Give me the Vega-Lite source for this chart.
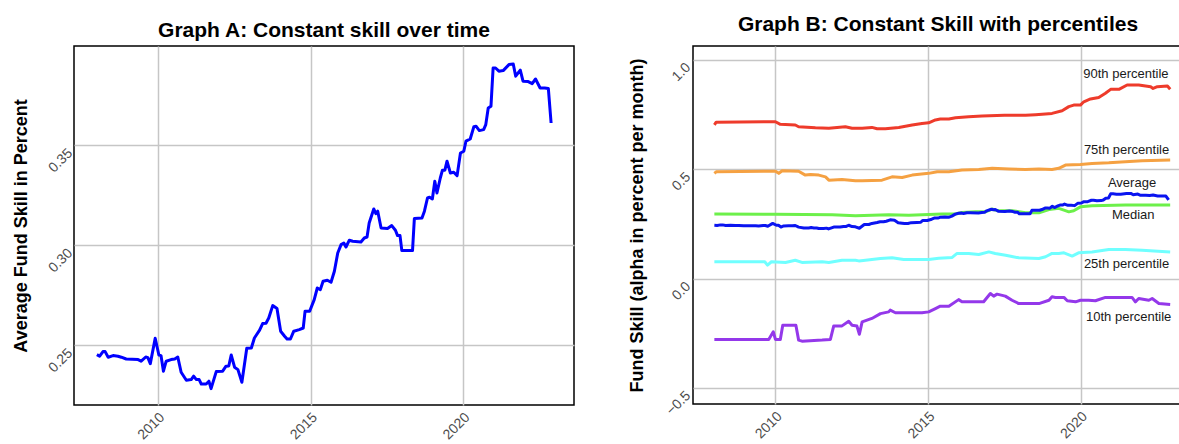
{
  "$schema": "https://vega.github.io/schema/vega-lite/v6.json",
  "background": "white",
  "padding": {"left": 12, "top": 13, "right": -2, "bottom": 0},
  "spacing": 52,
  "config": {
    "font": "Liberation Sans",
    "view": {"stroke": null},
    "axis": {
      "labelFont": "Liberation Sans",
      "labelFontSize": 14,
      "labelColor": "#4d4d4d",
      "titleFont": "Liberation Sans",
      "titleFontSize": 18,
      "titleFontWeight": "bold",
      "titleColor": "#000000",
      "gridColor": "#c6c6c6",
      "gridWidth": 1.5,
      "ticks": false,
      "domain": false
    },
    "title": {"font": "Liberation Sans", "fontSize": 21, "fontWeight": "bold", "color": "#000000", "anchor": "middle"}
  },
  "datasets": {
    "average": [
      {"year": 2008.00, "value": 0.2450}, {"year": 2008.09, "value": 0.2442}, {"year": 2008.20, "value": 0.2465},
      {"year": 2008.27, "value": 0.2465}, {"year": 2008.37, "value": 0.2437}, {"year": 2008.53, "value": 0.2445},
      {"year": 2008.69, "value": 0.2442}, {"year": 2008.80, "value": 0.2437}, {"year": 2008.96, "value": 0.2428},
      {"year": 2009.35, "value": 0.2425}, {"year": 2009.45, "value": 0.2417}, {"year": 2009.60, "value": 0.2438},
      {"year": 2009.67, "value": 0.2435}, {"year": 2009.75, "value": 0.2405}, {"year": 2009.91, "value": 0.2532},
      {"year": 2010.03, "value": 0.2448}, {"year": 2010.10, "value": 0.2445}, {"year": 2010.18, "value": 0.2367},
      {"year": 2010.27, "value": 0.2417}, {"year": 2010.43, "value": 0.2425}, {"year": 2010.55, "value": 0.2428},
      {"year": 2010.65, "value": 0.2438}, {"year": 2010.76, "value": 0.2362}, {"year": 2010.93, "value": 0.2322},
      {"year": 2011.09, "value": 0.2325}, {"year": 2011.17, "value": 0.2342}, {"year": 2011.26, "value": 0.2325},
      {"year": 2011.35, "value": 0.2325}, {"year": 2011.42, "value": 0.2303}, {"year": 2011.58, "value": 0.2303},
      {"year": 2011.67, "value": 0.2317}, {"year": 2011.74, "value": 0.2280}, {"year": 2011.91, "value": 0.2365},
      {"year": 2012.12, "value": 0.2367}, {"year": 2012.23, "value": 0.2392}, {"year": 2012.32, "value": 0.2393},
      {"year": 2012.40, "value": 0.2448}, {"year": 2012.51, "value": 0.2387}, {"year": 2012.62, "value": 0.2375},
      {"year": 2012.75, "value": 0.2312}, {"year": 2012.91, "value": 0.2482}, {"year": 2013.06, "value": 0.2483},
      {"year": 2013.16, "value": 0.2533}, {"year": 2013.33, "value": 0.2572}, {"year": 2013.43, "value": 0.2605},
      {"year": 2013.54, "value": 0.2607}, {"year": 2013.63, "value": 0.2633}, {"year": 2013.76, "value": 0.2695},
      {"year": 2013.90, "value": 0.2680}, {"year": 2014.02, "value": 0.2567}, {"year": 2014.15, "value": 0.2542},
      {"year": 2014.23, "value": 0.2528}, {"year": 2014.34, "value": 0.2528}, {"year": 2014.45, "value": 0.2567},
      {"year": 2014.63, "value": 0.2575}, {"year": 2014.76, "value": 0.2583}, {"year": 2014.82, "value": 0.2667},
      {"year": 2014.97, "value": 0.2667}, {"year": 2015.12, "value": 0.2725}, {"year": 2015.22, "value": 0.2783},
      {"year": 2015.32, "value": 0.2775}, {"year": 2015.41, "value": 0.2817}, {"year": 2015.55, "value": 0.2822},
      {"year": 2015.67, "value": 0.2812}, {"year": 2015.78, "value": 0.2867}, {"year": 2015.89, "value": 0.2958},
      {"year": 2016.00, "value": 0.3000}, {"year": 2016.09, "value": 0.3008}, {"year": 2016.16, "value": 0.2988},
      {"year": 2016.27, "value": 0.3022}, {"year": 2016.38, "value": 0.3017}, {"year": 2016.65, "value": 0.3013},
      {"year": 2016.76, "value": 0.3033}, {"year": 2016.85, "value": 0.3038}, {"year": 2016.92, "value": 0.3108},
      {"year": 2017.07, "value": 0.3178}, {"year": 2017.14, "value": 0.3155}, {"year": 2017.20, "value": 0.3167},
      {"year": 2017.31, "value": 0.3083}, {"year": 2017.52, "value": 0.3080}, {"year": 2017.66, "value": 0.3095},
      {"year": 2017.78, "value": 0.3072}, {"year": 2017.85, "value": 0.3045}, {"year": 2017.93, "value": 0.3045},
      {"year": 2017.99, "value": 0.2970}, {"year": 2018.34, "value": 0.2970}, {"year": 2018.40, "value": 0.3130},
      {"year": 2018.65, "value": 0.3133}, {"year": 2018.73, "value": 0.3167}, {"year": 2018.83, "value": 0.3233},
      {"year": 2018.90, "value": 0.3237}, {"year": 2018.99, "value": 0.3228}, {"year": 2019.07, "value": 0.3317},
      {"year": 2019.14, "value": 0.3258}, {"year": 2019.25, "value": 0.3333}, {"year": 2019.32, "value": 0.3372},
      {"year": 2019.40, "value": 0.3372}, {"year": 2019.47, "value": 0.3417}, {"year": 2019.58, "value": 0.3358},
      {"year": 2019.69, "value": 0.3362}, {"year": 2019.80, "value": 0.3345}, {"year": 2019.91, "value": 0.3458},
      {"year": 2020.02, "value": 0.3467}, {"year": 2020.09, "value": 0.3517}, {"year": 2020.23, "value": 0.3528},
      {"year": 2020.35, "value": 0.3590}, {"year": 2020.42, "value": 0.3592}, {"year": 2020.53, "value": 0.3570},
      {"year": 2020.67, "value": 0.3575}, {"year": 2020.74, "value": 0.3600}, {"year": 2020.82, "value": 0.3683},
      {"year": 2020.91, "value": 0.3692}, {"year": 2020.98, "value": 0.3883}, {"year": 2021.06, "value": 0.3883},
      {"year": 2021.17, "value": 0.3867}, {"year": 2021.31, "value": 0.3870}, {"year": 2021.50, "value": 0.3900},
      {"year": 2021.64, "value": 0.3903}, {"year": 2021.72, "value": 0.3842}, {"year": 2021.87, "value": 0.3872},
      {"year": 2021.96, "value": 0.3817}, {"year": 2022.13, "value": 0.3815}, {"year": 2022.26, "value": 0.3805},
      {"year": 2022.37, "value": 0.3828}, {"year": 2022.52, "value": 0.3783}, {"year": 2022.67, "value": 0.3783},
      {"year": 2022.79, "value": 0.3780}, {"year": 2022.88, "value": 0.3608}
    ],
    "percentiles": [
      {"series": "90th", "year": 2008.00, "value": 0.704}, {"series": "90th", "year": 2008.06, "value": 0.716},
      {"series": "90th", "year": 2010.00, "value": 0.718}, {"series": "90th", "year": 2010.16, "value": 0.706},
      {"series": "90th", "year": 2010.65, "value": 0.703}, {"series": "90th", "year": 2010.76, "value": 0.695},
      {"series": "90th", "year": 2011.31, "value": 0.690}, {"series": "90th", "year": 2011.75, "value": 0.688},
      {"series": "90th", "year": 2012.29, "value": 0.695}, {"series": "90th", "year": 2012.51, "value": 0.688},
      {"series": "90th", "year": 2012.84, "value": 0.688}, {"series": "90th", "year": 2013.16, "value": 0.692},
      {"series": "90th", "year": 2013.33, "value": 0.686}, {"series": "90th", "year": 2013.60, "value": 0.686},
      {"series": "90th", "year": 2014.04, "value": 0.692}, {"series": "90th", "year": 2014.48, "value": 0.703},
      {"series": "90th", "year": 2014.80, "value": 0.710}, {"series": "90th", "year": 2015.02, "value": 0.713},
      {"series": "90th", "year": 2015.24, "value": 0.726}, {"series": "90th", "year": 2015.40, "value": 0.730},
      {"series": "90th", "year": 2015.68, "value": 0.730}, {"series": "90th", "year": 2015.90, "value": 0.736},
      {"series": "90th", "year": 2016.33, "value": 0.741}, {"series": "90th", "year": 2016.77, "value": 0.744},
      {"series": "90th", "year": 2017.50, "value": 0.747}, {"series": "90th", "year": 2018.19, "value": 0.747},
      {"series": "90th", "year": 2018.52, "value": 0.750}, {"series": "90th", "year": 2019.06, "value": 0.756},
      {"series": "90th", "year": 2019.39, "value": 0.768}, {"series": "90th", "year": 2019.61, "value": 0.787},
      {"series": "90th", "year": 2019.77, "value": 0.794}, {"series": "90th", "year": 2019.99, "value": 0.794},
      {"series": "90th", "year": 2020.10, "value": 0.809}, {"series": "90th", "year": 2020.32, "value": 0.822},
      {"series": "90th", "year": 2020.59, "value": 0.829}, {"series": "90th", "year": 2020.81, "value": 0.848},
      {"series": "90th", "year": 2020.98, "value": 0.866}, {"series": "90th", "year": 2021.25, "value": 0.866},
      {"series": "90th", "year": 2021.52, "value": 0.886}, {"series": "90th", "year": 2021.90, "value": 0.886},
      {"series": "90th", "year": 2022.29, "value": 0.878}, {"series": "90th", "year": 2022.37, "value": 0.870},
      {"series": "90th", "year": 2022.51, "value": 0.878}, {"series": "90th", "year": 2022.84, "value": 0.881},
      {"series": "90th", "year": 2022.93, "value": 0.866},

      {"series": "75th", "year": 2008.00, "value": 0.482}, {"series": "75th", "year": 2008.06, "value": 0.489},
      {"series": "75th", "year": 2010.00, "value": 0.492}, {"series": "75th", "year": 2010.11, "value": 0.482},
      {"series": "75th", "year": 2010.22, "value": 0.494}, {"series": "75th", "year": 2010.76, "value": 0.492},
      {"series": "75th", "year": 2010.98, "value": 0.474}, {"series": "75th", "year": 2011.15, "value": 0.477},
      {"series": "75th", "year": 2011.42, "value": 0.474}, {"series": "75th", "year": 2011.64, "value": 0.466},
      {"series": "75th", "year": 2011.75, "value": 0.451}, {"series": "75th", "year": 2012.18, "value": 0.454},
      {"series": "75th", "year": 2012.62, "value": 0.448}, {"series": "75th", "year": 2012.84, "value": 0.448},
      {"series": "75th", "year": 2013.49, "value": 0.451}, {"series": "75th", "year": 2013.82, "value": 0.466},
      {"series": "75th", "year": 2014.15, "value": 0.463}, {"series": "75th", "year": 2014.48, "value": 0.474},
      {"series": "75th", "year": 2015.02, "value": 0.482}, {"series": "75th", "year": 2015.30, "value": 0.489},
      {"series": "75th", "year": 2015.68, "value": 0.489}, {"series": "75th", "year": 2016.11, "value": 0.497},
      {"series": "75th", "year": 2016.66, "value": 0.500}, {"series": "75th", "year": 2017.10, "value": 0.505},
      {"series": "75th", "year": 2017.65, "value": 0.502}, {"series": "75th", "year": 2018.19, "value": 0.500},
      {"series": "75th", "year": 2018.63, "value": 0.502}, {"series": "75th", "year": 2019.06, "value": 0.500},
      {"series": "75th", "year": 2019.28, "value": 0.505}, {"series": "75th", "year": 2019.50, "value": 0.520},
      {"series": "75th", "year": 2019.99, "value": 0.523}, {"series": "75th", "year": 2020.37, "value": 0.527},
      {"series": "75th", "year": 2020.92, "value": 0.530}, {"series": "75th", "year": 2021.46, "value": 0.535},
      {"series": "75th", "year": 2022.01, "value": 0.540}, {"series": "75th", "year": 2022.93, "value": 0.543},

      {"series": "Median", "year": 2008.00, "value": 0.296}, {"series": "Median", "year": 2010.00, "value": 0.295},
      {"series": "Median", "year": 2011.86, "value": 0.293}, {"series": "Median", "year": 2012.62, "value": 0.288},
      {"series": "Median", "year": 2013.71, "value": 0.293}, {"series": "Median", "year": 2014.37, "value": 0.291},
      {"series": "Median", "year": 2015.02, "value": 0.294}, {"series": "Median", "year": 2015.46, "value": 0.296},
      {"series": "Median", "year": 2015.90, "value": 0.296}, {"series": "Median", "year": 2016.11, "value": 0.303},
      {"series": "Median", "year": 2016.55, "value": 0.306}, {"series": "Median", "year": 2016.88, "value": 0.306},
      {"series": "Median", "year": 2017.10, "value": 0.319}, {"series": "Median", "year": 2017.20, "value": 0.314},
      {"series": "Median", "year": 2017.32, "value": 0.311}, {"series": "Median", "year": 2017.76, "value": 0.311},
      {"series": "Median", "year": 2018.19, "value": 0.302}, {"series": "Median", "year": 2018.63, "value": 0.302},
      {"series": "Median", "year": 2018.96, "value": 0.317}, {"series": "Median", "year": 2019.28, "value": 0.322},
      {"series": "Median", "year": 2019.45, "value": 0.314}, {"series": "Median", "year": 2019.61, "value": 0.306},
      {"series": "Median", "year": 2019.77, "value": 0.311}, {"series": "Median", "year": 2019.99, "value": 0.329},
      {"series": "Median", "year": 2020.37, "value": 0.334}, {"series": "Median", "year": 2021.46, "value": 0.337},
      {"series": "Median", "year": 2022.93, "value": 0.337},

      {"series": "25th", "year": 2008.00, "value": 0.078}, {"series": "25th", "year": 2009.65, "value": 0.078},
      {"series": "25th", "year": 2009.74, "value": 0.0625}, {"series": "25th", "year": 2009.87, "value": 0.078},
      {"series": "25th", "year": 2010.33, "value": 0.075}, {"series": "25th", "year": 2010.65, "value": 0.085},
      {"series": "25th", "year": 2010.87, "value": 0.075}, {"series": "25th", "year": 2011.53, "value": 0.078},
      {"series": "25th", "year": 2011.75, "value": 0.075}, {"series": "25th", "year": 2012.18, "value": 0.085},
      {"series": "25th", "year": 2012.62, "value": 0.085}, {"series": "25th", "year": 2012.73, "value": 0.082},
      {"series": "25th", "year": 2012.95, "value": 0.085}, {"series": "25th", "year": 2013.44, "value": 0.093},
      {"series": "25th", "year": 2013.82, "value": 0.096}, {"series": "25th", "year": 2014.20, "value": 0.088},
      {"series": "25th", "year": 2015.02, "value": 0.088}, {"series": "25th", "year": 2015.35, "value": 0.094},
      {"series": "25th", "year": 2015.79, "value": 0.098}, {"series": "25th", "year": 2015.95, "value": 0.116},
      {"series": "25th", "year": 2016.33, "value": 0.116}, {"series": "25th", "year": 2016.66, "value": 0.111},
      {"series": "25th", "year": 2016.99, "value": 0.123}, {"series": "25th", "year": 2017.20, "value": 0.116},
      {"series": "25th", "year": 2017.54, "value": 0.108}, {"series": "25th", "year": 2017.97, "value": 0.096},
      {"series": "25th", "year": 2018.63, "value": 0.093}, {"series": "25th", "year": 2018.85, "value": 0.101},
      {"series": "25th", "year": 2019.06, "value": 0.116}, {"series": "25th", "year": 2019.28, "value": 0.116},
      {"series": "25th", "year": 2019.45, "value": 0.119}, {"series": "25th", "year": 2019.72, "value": 0.104},
      {"series": "25th", "year": 2019.93, "value": 0.119}, {"series": "25th", "year": 2020.37, "value": 0.123},
      {"series": "25th", "year": 2020.92, "value": 0.134}, {"series": "25th", "year": 2021.46, "value": 0.134},
      {"series": "25th", "year": 2022.01, "value": 0.131}, {"series": "25th", "year": 2022.93, "value": 0.123},

      {"series": "10th", "year": 2008.00, "value": -0.277}, {"series": "10th", "year": 2009.78, "value": -0.277},
      {"series": "10th", "year": 2009.93, "value": -0.242}, {"series": "10th", "year": 2010.00, "value": -0.277},
      {"series": "10th", "year": 2010.16, "value": -0.277}, {"series": "10th", "year": 2010.24, "value": -0.212},
      {"series": "10th", "year": 2010.67, "value": -0.212}, {"series": "10th", "year": 2010.76, "value": -0.280},
      {"series": "10th", "year": 2010.87, "value": -0.285}, {"series": "10th", "year": 2011.53, "value": -0.280},
      {"series": "10th", "year": 2011.80, "value": -0.277}, {"series": "10th", "year": 2011.91, "value": -0.215},
      {"series": "10th", "year": 2012.18, "value": -0.215}, {"series": "10th", "year": 2012.40, "value": -0.194},
      {"series": "10th", "year": 2012.51, "value": -0.212}, {"series": "10th", "year": 2012.67, "value": -0.216},
      {"series": "10th", "year": 2012.75, "value": -0.253}, {"series": "10th", "year": 2012.84, "value": -0.197},
      {"series": "10th", "year": 2013.00, "value": -0.189}, {"series": "10th", "year": 2013.16, "value": -0.181},
      {"series": "10th", "year": 2013.44, "value": -0.159}, {"series": "10th", "year": 2013.71, "value": -0.151},
      {"series": "10th", "year": 2013.76, "value": -0.143}, {"series": "10th", "year": 2013.93, "value": -0.155},
      {"series": "10th", "year": 2014.80, "value": -0.155}, {"series": "10th", "year": 2015.02, "value": -0.151},
      {"series": "10th", "year": 2015.24, "value": -0.136}, {"series": "10th", "year": 2015.40, "value": -0.125},
      {"series": "10th", "year": 2015.68, "value": -0.125}, {"series": "10th", "year": 2016.00, "value": -0.095},
      {"series": "10th", "year": 2016.11, "value": -0.105}, {"series": "10th", "year": 2016.82, "value": -0.105},
      {"series": "10th", "year": 2017.04, "value": -0.067}, {"series": "10th", "year": 2017.15, "value": -0.079},
      {"series": "10th", "year": 2017.26, "value": -0.070}, {"series": "10th", "year": 2017.53, "value": -0.079},
      {"series": "10th", "year": 2017.75, "value": -0.098}, {"series": "10th", "year": 2017.97, "value": -0.113},
      {"series": "10th", "year": 2018.63, "value": -0.113}, {"series": "10th", "year": 2018.96, "value": -0.098},
      {"series": "10th", "year": 2019.06, "value": -0.082}, {"series": "10th", "year": 2019.17, "value": -0.085},
      {"series": "10th", "year": 2019.45, "value": -0.085}, {"series": "10th", "year": 2019.56, "value": -0.100},
      {"series": "10th", "year": 2019.83, "value": -0.105}, {"series": "10th", "year": 2019.99, "value": -0.098},
      {"series": "10th", "year": 2020.26, "value": -0.098}, {"series": "10th", "year": 2020.48, "value": -0.100},
      {"series": "10th", "year": 2020.81, "value": -0.085}, {"series": "10th", "year": 2021.68, "value": -0.085},
      {"series": "10th", "year": 2021.79, "value": -0.105}, {"series": "10th", "year": 2021.90, "value": -0.090},
      {"series": "10th", "year": 2022.23, "value": -0.098}, {"series": "10th", "year": 2022.34, "value": -0.090},
      {"series": "10th", "year": 2022.56, "value": -0.113}, {"series": "10th", "year": 2022.93, "value": -0.117}
    ],
    "labels": [
      {"year": 2021.48, "value": 0.936, "text": "90th percentile"},
      {"year": 2021.50, "value": 0.589, "text": "75th percentile"},
      {"year": 2021.68, "value": 0.439, "text": "Average"},
      {"year": 2021.72, "value": 0.291, "text": "Median"},
      {"year": 2021.50, "value": 0.070, "text": "25th percentile"},
      {"year": 2021.57, "value": -0.176, "text": "10th percentile"}
    ]
  },
  "hconcat": [
    {
      "width": 500,
      "height": 359,
      "title": {"text": "Graph A: Constant skill over time", "offset": 5},
      "view": {"stroke": "#000000", "strokeWidth": 1.5},
      "data": {"name": "average"},
      "mark": {"type": "line", "color": "#0000ff", "strokeWidth": 3, "strokeJoin": "round"},
      "encoding": {
        "x": {
          "field": "year", "type": "quantitative",
          "scale": {"domain": [2007.25, 2023.63], "nice": false, "zero": false},
          "axis": {"values": [2010, 2015, 2020], "format": "d", "title": null,
                   "labelAngle": -45, "labelAlign": "right", "labelBaseline": "middle",
                   "labelPadding": 10, "labelOffset": 4}
        },
        "y": {
          "field": "value", "type": "quantitative",
          "scale": {"domain": [0.2198, 0.3993], "nice": false, "zero": false},
          "axis": {"values": [0.25, 0.30, 0.35], "format": ".2f", "title": "Average Fund Skill in Percent",
                   "labelAngle": -45, "labelAlign": "right", "labelBaseline": "middle",
                   "labelPadding": 4, "labelOffset": 6, "titlePadding": 15}
        }
      }
    },
    {
      "width": 490,
      "height": 358,
      "title": {"text": "Graph B: Constant Skill with percentiles", "offset": 11},
      "view": {"stroke": "#000000", "strokeWidth": 1.5},
      "encoding": {
        "x": {
          "field": "year", "type": "quantitative",
          "scale": {"domain": [2007.30, 2023.35], "nice": false, "zero": false},
          "axis": {"values": [2010, 2015, 2020], "format": "d", "title": null,
                   "labelAngle": -45, "labelAlign": "right", "labelBaseline": "middle",
                   "labelPadding": 10, "labelOffset": 4}
        },
        "y": {
          "field": "value", "type": "quantitative",
          "scale": {"domain": [-0.572, 1.064], "nice": false, "zero": false},
          "axis": {"values": [-0.5, 0, 0.5, 1.0], "format": ".1f", "title": "Fund Skill (alpha in percent per month)",
                   "labelAngle": -45, "labelAlign": "right", "labelBaseline": "middle",
                   "labelPadding": 5, "labelOffset": 5, "titlePadding": 17}
        }
      },
      "layer": [
        {
          "data": {"name": "percentiles"},
          "mark": {"type": "line", "strokeWidth": 3, "strokeJoin": "round"},
          "encoding": {
            "color": {
              "field": "series", "type": "nominal", "legend": null,
              "scale": {"domain": ["90th", "75th", "Median", "25th", "10th"],
                        "range": ["#ee3b2b", "#f5a142", "#6cf04a", "#70ffff", "#9438ea"]}
            }
          }
        },
        {
          "data": {"name": "average"},
          "mark": {"type": "line", "color": "#0a14f0", "strokeWidth": 3, "strokeJoin": "round"},
          "encoding": {}
        },
        {
          "data": {"name": "labels"},
          "mark": {"type": "text", "fontSize": 13, "color": "#1a1a1a", "font": "Liberation Sans"},
          "encoding": {"text": {"field": "text"}}
        }
      ]
    }
  ]
}
